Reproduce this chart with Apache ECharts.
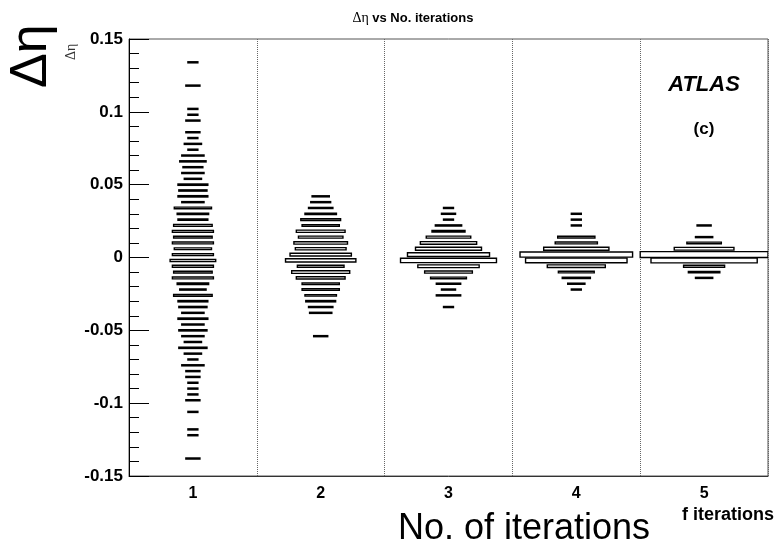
<!DOCTYPE html>
<html><head><meta charset="utf-8">
<script src="https://cdn.jsdelivr.net/npm/echarts@6/dist/echarts.min.js"></script>
<style>html,body{margin:0;padding:0;background:#fff}#c{width:776px;height:547px}</style>
</head><body><div id="c"></div>
<script>
// ---- data ----
const categories = ['1', '2', '3', '4', '5'];
const yTickValues = [-0.15, -0.1, -0.05, 0, 0.05, 0.1, 0.15];

// Column 1 (1 iteration): bin centre in Δη, entries
const eta1 = [0.134, 0.118, 0.102, 0.098, 0.094, 0.086, 0.082, 0.078, 0.074, 0.070, 0.066, 0.062, 0.058, 0.054, 0.050, 0.046, 0.042, 0.038, 0.034, 0.030, 0.026, 0.022, 0.018, 0.014, 0.010, 0.006, 0.002, -0.002, -0.006, -0.010, -0.014, -0.018, -0.022, -0.026, -0.030, -0.034, -0.038, -0.042, -0.046, -0.050, -0.054, -0.058, -0.062, -0.066, -0.070, -0.074, -0.078, -0.082, -0.086, -0.090, -0.094, -0.098, -0.106, -0.118, -0.122, -0.138];
const cnt1 = [1, 2, 1, 1, 2, 2, 1, 3, 1, 5, 7, 4, 5, 3, 9, 8, 9, 5, 14, 10, 9, 15, 17, 15, 17, 14, 17, 21, 17, 15, 17, 10, 7, 15, 9, 8, 5, 9, 5, 8, 5, 3, 8, 3, 1, 5, 2, 2, 1, 1, 1, 2, 1, 1, 1, 2];

// Column 2
const eta2 = [0.042, 0.038, 0.034, 0.030, 0.026, 0.022, 0.018, 0.014, 0.010, 0.006, 0.002, -0.002, -0.006, -0.010, -0.014, -0.018, -0.022, -0.026, -0.030, -0.034, -0.038, -0.054];
const cnt2 = [3, 4, 6, 10, 16, 14, 24, 20, 29, 26, 38, 50, 22, 34, 24, 14, 14, 10, 9, 6, 5, 2];

// Column 3
const eta3 = [0.034, 0.030, 0.026, 0.022, 0.018, 0.014, 0.010, 0.006, 0.002, -0.002, -0.006, -0.010, -0.014, -0.018, -0.022, -0.026, -0.034];
const cnt3 = [1, 2, 1, 7, 11, 20, 32, 44, 68, 93, 38, 23, 13, 6, 2, 6, 1];

// Column 4
const eta4 = [0.030, 0.026, 0.022, 0.014, 0.010, 0.006, 0.002, -0.002, -0.006, -0.010, -0.014, -0.018, -0.022];
const cnt4 = [1, 1, 1, 14, 18, 43, 128, 104, 34, 13, 8, 3, 1];

// Column 5
const eta5 = [0.022, 0.014, 0.010, 0.006, 0.002, -0.002, -0.006, -0.010, -0.014];
const cnt5 = [2, 3, 12, 36, 165, 114, 17, 10, 3];

const BIN_H = 0.004;   // Δη bin width
const columns = [[eta1, cnt1], [eta2, cnt2], [eta3, cnt3], [eta4, cnt4], [eta5, cnt5]];

// ---- build ----
const data = [];
let CMAX = 0;
columns.forEach((col, i) => {
  col[0].forEach((e, k) => { data.push([i, e, col[1][k]]); CMAX = Math.max(CMAX, col[1][k]); });
});

function renderItem(params, api) {
  const c = api.coord([api.value(0), api.value(1)]);
  const s = api.size([1, BIN_H]);
  const r = Math.sqrt(api.value(2) / CMAX);
  const w = s[0] * r, h = Math.max(s[1] * r, 1.1);
  return {
    type: 'rect',
    shape: { x: c[0] - w / 2, y: c[1] - h / 2, width: w, height: h },
    style: { fill: '#fff', stroke: '#000', lineWidth: 1.4 }
  };
}

const FONT = '"Liberation Sans", Arial, sans-serif';
const chart = echarts.init(document.getElementById('c'), null, { renderer: 'canvas' });
chart.setOption({
  backgroundColor: '#fff',
  animation: false,
  grid: { left: 129, right: 8, top: 39, bottom: 71, show: true, borderColor: '#555', borderWidth: 1, backgroundColor: 'transparent' },
  xAxis: {
    type: 'category', data: categories,
    axisLine: { onZero: false, lineStyle: { color: '#333', width: 1 } },
    axisTick: { inside: true, length: 9, lineStyle: { color: '#333' } },
    splitLine: { show: true, lineStyle: { color: '#666', type: [1, 1], width: 1 } },
    axisLabel: { color: '#000', fontFamily: FONT, fontWeight: 'bold', fontSize: 16, margin: 10 }
  },
  yAxis: {
    type: 'value', min: yTickValues[0], max: yTickValues[yTickValues.length - 1], interval: 0.05,
    axisLine: { show: true, onZero: false, lineStyle: { color: '#000', width: 1 } },
    axisTick: { show: true, inside: true, length: 20, lineStyle: { color: '#000' } },
    minorTick: { show: true, splitNumber: 5, length: 10, lineStyle: { color: '#000' } },
    splitLine: { show: false },
    axisLabel: {
      color: '#000', fontFamily: FONT, fontWeight: 'bold', fontSize: 17, margin: 6,
      formatter: v => String(+v.toFixed(2))
    }
  },
  series: [{
    type: 'custom', renderItem: renderItem, clip: true,
    encode: { x: 0, y: 1 },
    data: data
  }],
  graphic: [
    { type: 'text', x: 413, y: 18, style: {
        text: '{g|Δη} {b|vs No. iterations}', align: 'center', verticalAlign: 'middle',
        rich: { g: { fontFamily: '"Liberation Serif", serif', fontSize: 14, fill: '#000' },
                b: { fontFamily: FONT, fontWeight: 'bold', fontSize: 13, fill: '#000' } } } },
    { type: 'text', x: 6, y: 88, rotation: Math.PI / 2, style: {
        text: 'Δη', fontFamily: FONT, fontSize: 52, fill: '#000' } },
    { type: 'text', x: 64, y: 60, rotation: Math.PI / 2, style: {
        text: 'Δη', fontFamily: '"Liberation Serif", serif', fontSize: 14, fill: '#333' } },
    { type: 'text', x: 704, y: 85, style: {
        text: 'ATLAS', fontFamily: FONT, fontWeight: 'bold', fontStyle: 'italic', fontSize: 22, fill: '#000', align: 'center', verticalAlign: 'middle' } },
    { type: 'text', x: 704, y: 129, style: {
        text: '(c)', fontFamily: FONT, fontWeight: 'bold', fontSize: 17, fill: '#000', align: 'center', verticalAlign: 'middle' } },
    { type: 'text', x: 524, y: 529, style: {
        text: 'No. of iterations', fontFamily: FONT, fontSize: 36, fill: '#000', align: 'center', verticalAlign: 'middle' } },
    { type: 'text', x: 774, y: 515, style: {
        text: 'f iterations', fontFamily: FONT, fontWeight: 'bold', fontSize: 18, fill: '#000', align: 'right', verticalAlign: 'middle' } },
    { type: 'text', x: 628, y: 481, style: {
        text: '˙ ˙', fontFamily: FONT, fontSize: 10, fill: '#444', align: 'center', verticalAlign: 'middle' } }
  ]
});
</script></body></html>
